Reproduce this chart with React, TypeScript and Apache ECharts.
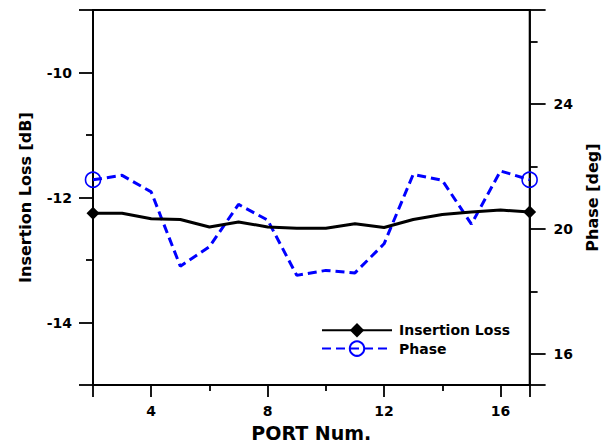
import React, { useEffect, useRef } from 'react';
import * as echarts from 'echarts';

const ports = [2, 3, 4, 5, 6, 7, 8, 9, 10, 11, 12, 13, 14, 15, 16, 17];
const insertionLoss = [-12.25, -12.25, -12.34, -12.35, -12.47, -12.39, -12.47, -12.49, -12.49, -12.42, -12.48, -12.35, -12.27, -12.23, -12.2, -12.23];
const phase = [21.57, 21.71, 21.18, 18.8, 19.43, 20.78, 20.28, 18.51, 18.67, 18.59, 19.52, 21.74, 21.55, 20.15, 21.85, 21.57];
const xTickLabels = [4, 8, 12, 16];
const leftTickLabels = [-14, -12, -10];
const rightTickLabels = [16, 20, 24];

const FONT = 'DejaVu Sans';

function endMarked(values: number[]) {
  return values.map((v, i) => {
    const item: any = { value: [ports[i], v] };
    if (i !== 0 && i !== values.length - 1) item.symbol = 'none';
    return item;
  });
}

export default function App() {
  const ref = useRef<HTMLDivElement>(null);
  useEffect(() => {
    if (!ref.current) return;
    const chart = echarts.init(ref.current, null, { renderer: 'svg' });
    const labelStyle = { color: '#000', fontWeight: 'bold' as const, fontSize: 14, fontFamily: FONT };
    const line = { color: '#000', width: 1.8 };
    chart.setOption({
      animation: false,
      backgroundColor: '#fff',
      grid: { left: 93, right: 69, top: 10, bottom: 59, show: true, borderColor: '#000', borderWidth: 1.8, backgroundColor: 'transparent' },
      legend: {
        orient: 'vertical',
        left: 316,
        top: 318,
        itemWidth: 70,
        itemHeight: 18,
        itemGap: 3,
        textStyle: { color: '#000', fontWeight: 'bold', fontSize: 14, fontFamily: FONT, padding: [0, 0, 0, 2] },
        data: ['Insertion Loss', 'Phase'],
      },
      xAxis: {
        type: 'value',
        min: 2,
        max: 17,
        minInterval: 4,
        maxInterval: 4,
        splitNumber: 4,
        axisLine: { show: true, lineStyle: line },
        axisTick: { show: true, length: 12, lineStyle: line },
        minorTick: { show: true, splitNumber: 2, length: 6, lineStyle: line },
        splitLine: { show: false },
        axisLabel: { ...labelStyle, margin: 19, formatter: (v: number) => (xTickLabels.includes(v) ? String(v) : '') },
        name: 'PORT Num.',
        nameLocation: 'middle',
        nameGap: 37,
        nameTextStyle: { color: '#000', fontWeight: 'bold', fontSize: 19, fontFamily: FONT },
      },
      yAxis: [
        {
          type: 'value',
          position: 'left',
          min: -15,
          max: -9,
          minInterval: 2,
          maxInterval: 2,
          splitNumber: 3,
          axisLine: { show: true, lineStyle: line },
          axisTick: { show: true, length: 14, lineStyle: line },
          minorTick: { show: true, splitNumber: 2, length: 7, lineStyle: line },
          splitLine: { show: false },
          axisLabel: { ...labelStyle, margin: 21, formatter: (v: number) => (leftTickLabels.includes(v) ? String(v) : '') },
          name: 'Insertion Loss [dB]',
          nameLocation: 'middle',
          nameGap: 60,
          nameTextStyle: { color: '#000', fontWeight: 'bold', fontSize: 16, fontFamily: FONT },
        },
        {
          type: 'value',
          position: 'right',
          min: 15,
          max: 27,
          minInterval: 4,
          maxInterval: 4,
          splitNumber: 3,
          axisLine: { show: true, lineStyle: line },
          axisTick: { show: true, length: 16, lineStyle: line },
          minorTick: { show: true, splitNumber: 2, length: 8, lineStyle: line },
          splitLine: { show: false },
          axisLabel: { ...labelStyle, margin: 24, formatter: (v: number) => (rightTickLabels.includes(v) ? String(v) : '') },
          name: 'Phase [deg]',
          nameLocation: 'middle',
          nameGap: 47,
          nameTextStyle: { color: '#000', fontWeight: 'bold', fontSize: 16, fontFamily: FONT },
        },
      ],
      series: [
        {
          name: 'Insertion Loss',
          type: 'line',
          yAxisIndex: 0,
          data: endMarked(insertionLoss),
          symbol: 'diamond',
          symbolSize: 13,
          showSymbol: true,
          lineStyle: { color: '#000', width: 3 },
          itemStyle: { color: '#000' },
          z: 3,
        },
        {
          name: 'Phase',
          type: 'line',
          yAxisIndex: 1,
          data: endMarked(phase),
          symbol: 'circle',
          symbolSize: 15,
          showSymbol: true,
          lineStyle: { color: '#0000ff', width: 3, type: [9, 5] },
          itemStyle: { color: 'transparent', borderColor: '#0000ff', borderWidth: 1.6 },
          z: 2,
        },
      ],
    });
    return () => chart.dispose();
  }, []);
  return <div ref={ref} style={{ position: 'absolute', left: 0, top: 0, width: 608, height: 447 }} />;
}
